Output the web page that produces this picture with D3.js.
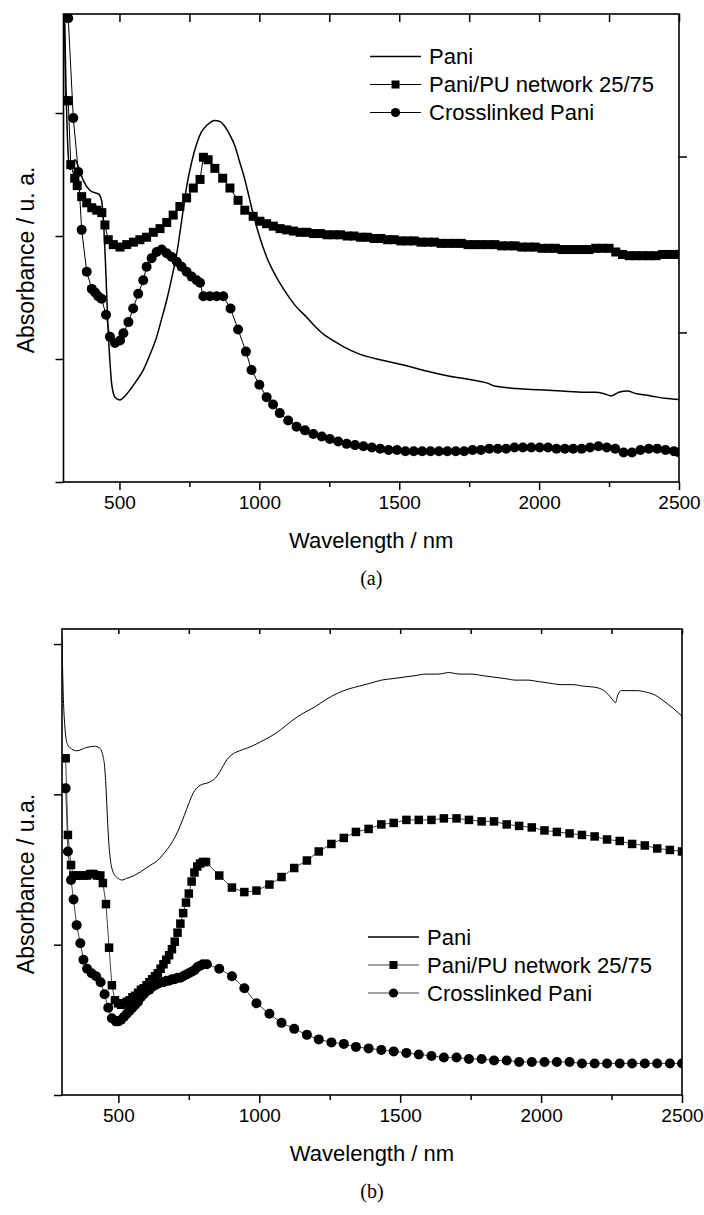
<!DOCTYPE html>
<html>
<head>
<meta charset="utf-8">
<script src="https://cdn.jsdelivr.net/npm/d3@7"></script>
<style>
  body { margin: 0; background: #fff; }
  svg { display: block; }
  text { font-family: "Liberation Sans", Arial, sans-serif; fill: #000; }
</style>
</head>
<body>
<div id="chart"></div>
<script>
// ---- data (wavelength nm, absorbance a.u.) ----
const xMajor = [500, 1000, 1500, 2000, 2500];
const xMinor = [750, 1250, 1750, 2250];
const yTicks = [0, 1, 2, 3];
const rightTicksA = [0.85, 1.85];
const seriesNames = ["Pani", "Pani/PU network 25/75", "Crosslinked Pani"];

// panel (a)
const paniA = [[300,4.6],[304,3.8],[309,3.2],[314,2.8],[318,2.62],[323,2.54],[332,2.58],[341,2.62],[355,2.55],[371,2.45],[395,2.37],[415,2.35],[426,2.34],[436,2.29],[442,2.15],[448,1.89],[454,1.55],[460,1.21],[466,0.98],[472,0.80],[484,0.69],[502,0.667],[520,0.70],[538,0.75],[560,0.82],[585,0.91],[610,1.04],[633,1.18],[650,1.32],[669,1.48],[687,1.66],[705,1.86],[722,2.12],[740,2.40],[758,2.60],[776,2.75],[794,2.85],[812,2.90],[841,2.94],[860,2.93],[877,2.89],[895,2.82],[913,2.73],[930,2.60],[948,2.46],[963,2.32],[978,2.18],[1000,2.00],[1026,1.83],[1060,1.67],[1098,1.53],[1130,1.43],[1169,1.34],[1197,1.27],[1230,1.20],[1264,1.15],[1300,1.10],[1358,1.04],[1440,0.99],[1519,0.95],[1600,0.90],[1680,0.86],[1760,0.83],[1820,0.80],[1840,0.78],[1920,0.76],[2001,0.75],[2080,0.74],[2162,0.73],[2200,0.73],[2230,0.72],[2259,0.70],[2285,0.73],[2315,0.74],[2345,0.72],[2400,0.70],[2450,0.68],[2500,0.67]];

const netA = [[300,4.3],[307,3.10],[317,3.10],[326,2.58],[340,2.47],[349,2.41],[365,2.32],[383,2.27],[401,2.23],[419,2.21],[437,2.19],[448,2.09],[460,1.97],[478,1.93],[502,1.91],[526,1.93],[550,1.95],[573,1.97],[597,1.99],[621,2.03],[645,2.06],[669,2.11],[692,2.17],[716,2.24],[740,2.31],[764,2.39],[788,2.46],[800,2.64],[817,2.62],[841,2.55],[869,2.47],[895,2.39],[924,2.29],[948,2.21],[978,2.16],[1002,2.12],[1026,2.10],[1050,2.08],[1074,2.06],[1098,2.05],[1122,2.04],[1146,2.03],[1170,2.03],[1194,2.02],[1218,2.02],[1242,2.01],[1266,2.01],[1290,2.01],[1314,2.00],[1338,2.00],[1362,1.99],[1386,1.99],[1410,1.98],[1434,1.98],[1458,1.97],[1482,1.97],[1506,1.96],[1530,1.96],[1554,1.96],[1578,1.95],[1602,1.95],[1626,1.95],[1650,1.94],[1674,1.94],[1698,1.94],[1722,1.94],[1746,1.93],[1770,1.93],[1794,1.93],[1818,1.93],[1842,1.93],[1866,1.92],[1890,1.92],[1914,1.92],[1938,1.91],[1962,1.91],[1986,1.91],[2010,1.90],[2034,1.90],[2058,1.90],[2082,1.89],[2106,1.89],[2130,1.89],[2154,1.89],[2178,1.89],[2202,1.90],[2226,1.90],[2250,1.90],[2274,1.87],[2298,1.85],[2322,1.84],[2346,1.84],[2370,1.84],[2394,1.84],[2418,1.84],[2442,1.85],[2466,1.85],[2490,1.85],[2500,1.85]];

const crossA = [[300,4.3],[317,3.77],[335,2.96],[353,2.52],[365,2.05],[383,1.71],[401,1.57],[413,1.54],[424,1.51],[436,1.49],[452,1.36],[466,1.18],[484,1.13],[502,1.15],[514,1.21],[532,1.30],[549,1.41],[567,1.53],[585,1.64],[597,1.75],[615,1.82],[633,1.87],[651,1.89],[669,1.86],[687,1.83],[705,1.79],[722,1.75],[740,1.71],[758,1.67],[776,1.64],[788,1.62],[800,1.51],[823,1.51],[847,1.51],[871,1.51],[897,1.41],[924,1.24],[952,1.06],[972,0.91],[1000,0.79],[1026,0.69],[1049,0.63],[1073,0.56],[1103,0.50],[1133,0.45],[1163,0.42],[1193,0.39],[1223,0.37],[1252,0.35],[1282,0.33],[1312,0.31],[1342,0.30],[1372,0.29],[1402,0.28],[1432,0.27],[1462,0.26],[1492,0.26],[1522,0.25],[1552,0.25],[1582,0.25],[1612,0.25],[1642,0.25],[1672,0.25],[1702,0.25],[1732,0.25],[1762,0.26],[1792,0.26],[1822,0.27],[1852,0.27],[1882,0.27],[1912,0.28],[1942,0.28],[1972,0.28],[2002,0.28],[2032,0.28],[2062,0.27],[2092,0.27],[2122,0.27],[2152,0.27],[2182,0.28],[2212,0.29],[2242,0.28],[2272,0.27],[2302,0.24],[2332,0.24],[2362,0.26],[2392,0.27],[2422,0.27],[2452,0.26],[2482,0.25],[2500,0.24]];

// panel (b)
const paniB = [[300,3.05],[302,2.85],[305,2.63],[309,2.48],[313,2.39],[320,2.33],[329,2.31],[352,2.29],[384,2.31],[416,2.32],[432,2.31],[440,2.29],[446,2.25],[451,2.19],[456,2.05],[461,1.85],[466,1.68],[472,1.56],[480,1.49],[488,1.46],[500,1.44],[512,1.43],[528,1.44],[543,1.45],[566,1.47],[591,1.50],[615,1.53],[639,1.56],[663,1.61],[687,1.67],[710,1.75],[734,1.86],[750,1.94],[766,2.01],[790,2.06],[822,2.08],[845,2.11],[860,2.15],[885,2.23],[900,2.26],[917,2.28],[945,2.30],[973,2.32],[1005,2.35],[1036,2.38],[1076,2.43],[1116,2.49],[1156,2.54],[1196,2.58],[1236,2.63],[1275,2.67],[1315,2.70],[1355,2.72],[1395,2.74],[1434,2.76],[1474,2.77],[1514,2.78],[1553,2.79],[1593,2.80],[1633,2.80],[1673,2.81],[1712,2.80],[1752,2.80],[1792,2.79],[1832,2.78],[1872,2.77],[1911,2.76],[1951,2.76],[1991,2.75],[2030,2.74],[2070,2.73],[2110,2.73],[2150,2.72],[2198,2.71],[2230,2.68],[2245,2.65],[2258,2.62],[2264,2.61],[2272,2.66],[2285,2.69],[2309,2.69],[2340,2.69],[2373,2.68],[2405,2.66],[2436,2.62],[2470,2.57],[2500,2.52]];

const netB = [[313,2.24],[321,1.73],[332,1.53],[340,1.46],[352,1.46],[364,1.46],[376,1.46],[388,1.46],[400,1.47],[412,1.47],[424,1.46],[436,1.46],[445,1.41],[456,1.27],[467,0.98],[477,0.73],[488,0.63],[499,0.61],[510,0.60],[520,0.61],[530,0.62],[540,0.63],[550,0.65],[560,0.66],[570,0.68],[580,0.70],[590,0.71],[600,0.73],[610,0.75],[620,0.77],[630,0.79],[640,0.81],[650,0.84],[660,0.87],[670,0.90],[680,0.93],[690,0.97],[700,1.02],[710,1.08],[720,1.14],[730,1.21],[740,1.28],[750,1.34],[760,1.42],[770,1.48],[780,1.52],[790,1.54],[800,1.55],[811,1.55],[858,1.46],[903,1.38],[947,1.35],[990,1.36],[1036,1.40],[1079,1.45],[1124,1.51],[1169,1.56],[1211,1.62],[1256,1.67],[1300,1.71],[1343,1.75],[1388,1.77],[1433,1.80],[1477,1.81],[1522,1.83],[1566,1.83],[1611,1.83],[1655,1.84],[1700,1.84],[1744,1.83],[1789,1.82],[1833,1.82],[1878,1.80],[1922,1.79],[1967,1.78],[2012,1.76],[2056,1.75],[2101,1.74],[2145,1.73],[2190,1.72],[2234,1.70],[2279,1.69],[2323,1.67],[2368,1.66],[2412,1.64],[2457,1.63],[2500,1.62]];

const crossB = [[313,2.04],[321,1.62],[332,1.43],[341,1.30],[352,1.13],[365,1.01],[376,0.90],[389,0.84],[405,0.81],[421,0.79],[437,0.75],[451,0.67],[464,0.58],[477,0.51],[491,0.49],[500,0.49],[510,0.50],[520,0.52],[530,0.54],[540,0.56],[550,0.58],[560,0.60],[570,0.62],[580,0.65],[590,0.67],[600,0.69],[610,0.70],[620,0.72],[630,0.73],[640,0.74],[650,0.75],[660,0.75],[670,0.76],[680,0.76],[690,0.77],[700,0.77],[710,0.78],[720,0.78],[730,0.79],[740,0.80],[750,0.81],[760,0.82],[770,0.83],[780,0.85],[790,0.86],[800,0.87],[814,0.87],[858,0.84],[903,0.79],[947,0.71],[990,0.61],[1036,0.54],[1079,0.48],[1124,0.44],[1169,0.40],[1211,0.37],[1256,0.35],[1300,0.34],[1343,0.32],[1388,0.31],[1433,0.30],[1477,0.29],[1522,0.28],[1566,0.27],[1611,0.26],[1655,0.25],[1700,0.25],[1744,0.24],[1789,0.24],[1833,0.23],[1878,0.23],[1922,0.22],[1967,0.22],[2012,0.22],[2056,0.22],[2101,0.22],[2145,0.21],[2190,0.21],[2234,0.21],[2279,0.21],[2323,0.21],[2368,0.21],[2412,0.21],[2457,0.21],[2500,0.21]];

const width = 704, height = 1215;
const svg = d3.select("#chart").append("svg")
  .attr("width", width)
  .attr("height", height);

function drawPanel(p) {
  const x = d3.scaleLinear().domain([300, 2500]).range([p.left, p.right]);
  const y = d3.scaleLinear().domain([0, p.yMax]).range([p.bottom, p.top]);
  const g = svg.append("g");

  // clip
  const clipId = "clip-" + p.id;
  svg.append("clipPath").attr("id", clipId).append("rect")
    .attr("x", p.left).attr("y", p.top)
    .attr("width", p.right - p.left).attr("height", p.bottom - p.top);

  // axes
  const bottomMajor = g.append("g")
    .attr("transform", `translate(0,${p.bottom})`)
    .call(d3.axisBottom(x).tickValues(xMajor).tickSize(8).tickSizeOuter(0).tickPadding(6).tickFormat(d3.format("d")));
  bottomMajor.selectAll("text")
    .style("font-size", "19px")
    .attr("font-family", "Liberation Sans, Arial, sans-serif");
  g.append("g")
    .attr("transform", `translate(0,${p.bottom})`)
    .call(d3.axisBottom(x).tickValues(xMinor).tickSize(5).tickFormat(""));

  // top ticks, pointing inward
  g.append("g")
    .attr("transform", `translate(0,${p.top})`)
    .call(d3.axisBottom(x).tickValues(xMajor.concat(xMinor)).tickSize(p.topTick).tickFormat(""));

  g.append("g")
    .attr("transform", `translate(${p.left},0)`)
    .call(d3.axisLeft(y).tickValues(yTicks).tickSize(8).tickFormat(""));

  if (p.rightTicks) {
    const yr = d3.scaleLinear().domain([0, p.rightMax]).range([p.bottom, p.top]);
    g.append("g")
      .attr("transform", `translate(${p.right},0)`)
      .call(d3.axisRight(yr).tickValues(p.rightTicks).tickSize(8).tickFormat(""));
  }

  g.selectAll(".domain").remove();
  g.selectAll(".tick line").attr("stroke", "#000").attr("stroke-width", 1.5);

  g.append("rect")
    .attr("x", p.left).attr("y", p.top)
    .attr("width", p.right - p.left).attr("height", p.bottom - p.top)
    .attr("fill", "none").attr("stroke", "#000").attr("stroke-width", 1.6);

  // series
  const plot = svg.append("g").attr("clip-path", `url(#${clipId})`);

  plot.append("path")
    .datum(p.pani)
    .attr("fill", "none")
    .attr("stroke", "#000")
    .attr("stroke-width", p.paniWidth)
    .attr("d", d3.line().x(d => x(d[0])).y(d => y(d[1])).curve(d3.curveMonotoneX));

  [p.net, p.cross].forEach(s => {
    plot.append("path")
      .datum(s)
      .attr("fill", "none")
      .attr("stroke", p.linkColor)
      .attr("stroke-width", 1)
      .attr("d", d3.line().x(d => x(d[0])).y(d => y(d[1])));
  });

  plot.selectAll(null)
    .data(p.net)
    .enter()
    .append("rect")
    .attr("x", d => x(d[0]) - p.sq / 2)
    .attr("y", d => y(d[1]) - p.sq / 2)
    .attr("width", p.sq)
    .attr("height", p.sq)
    .attr("fill", "#000");

  plot.selectAll(null)
    .data(p.cross)
    .enter()
    .append("circle")
    .attr("cx", d => x(d[0]))
    .attr("cy", d => y(d[1]))
    .attr("r", p.cr)
    .attr("fill", "#000");

  // legend
  const lg = svg.append("g");
  seriesNames.forEach((name, i) => {
    const ly = p.legY + i * 28;
    lg.append("line")
      .attr("x1", p.legX).attr("x2", p.legX + 51)
      .attr("y1", ly).attr("y2", ly)
      .attr("stroke", i === 0 ? "#000" : p.linkColor)
      .attr("stroke-width", i === 0 ? 1.5 : 1);
    if (i === 1) {
      lg.append("rect")
        .attr("x", p.legX + 25.5 - 4).attr("y", ly - 4)
        .attr("width", 8).attr("height", 8).attr("fill", "#000");
    }
    if (i === 2) {
      lg.append("circle")
        .attr("cx", p.legX + 25.5).attr("cy", ly).attr("r", 4.6).attr("fill", "#000");
    }
    lg.append("text")
      .attr("x", p.legX + 59)
      .attr("y", ly)
      .attr("dy", "0.36em")
      .style("font-size", "22px")
      .text(name);
  });

  // axis labels
  svg.append("text")
    .attr("x", (p.left + p.right) / 2)
    .attr("y", p.bottom + 66)
    .attr("text-anchor", "middle")
    .style("font-size", "22px")
    .text("Wavelength / nm");

  svg.append("text")
    .attr("transform", `translate(34,${p.yLabelY}) rotate(-90)`)
    .attr("text-anchor", "middle")
    .style("font-size", "23px")
    .text(p.yLabel);

  svg.append("text")
    .attr("x", (p.left + p.right) / 2)
    .attr("y", p.bottom + 103)
    .attr("text-anchor", "middle")
    .style("font-family", "Liberation Serif, Times New Roman, serif")
    .style("font-size", "20px")
    .text(p.caption);
}

drawPanel({
  id: "a", left: 63.5, right: 679, top: 14, bottom: 482, yMax: 3.805,
  rightTicks: rightTicksA, rightMax: 2.66, topTick: 8,
  pani: paniA, net: netA, cross: crossA, paniWidth: 1.5, linkColor: "#000",
  sq: 9, cr: 5, legX: 370, legY: 56.5,
  yLabel: "Absorbance / u. a.", yLabelY: 260, caption: "(a)"
});

drawPanel({
  id: "b", left: 62, right: 682, top: 629, bottom: 1095, yMax: 3.10,
  rightTicks: null, topTick: 5,
  pani: paniB, net: netB, cross: crossB, paniWidth: 1, linkColor: "#444",
  sq: 8.5, cr: 5, legX: 368, legY: 937,
  yLabel: "Absorbance / u.a.", yLabelY: 884, caption: "(b)"
});
</script>
</body>
</html>
